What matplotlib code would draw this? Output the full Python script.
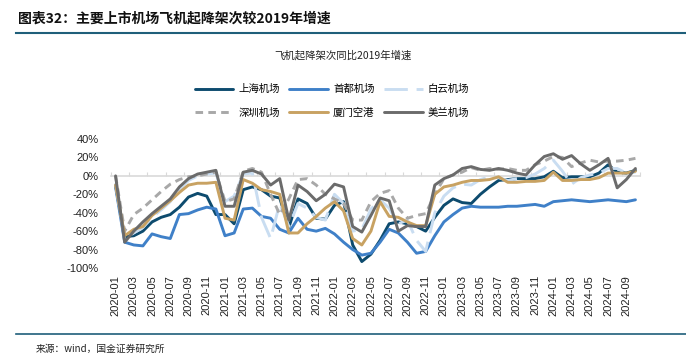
import numpy as np
import matplotlib
matplotlib.use("Agg")
import matplotlib.pyplot as plt
from matplotlib.lines import Line2D

plt.rcParams['font.family'] = ['Liberation Sans', 'Noto Sans CJK SC', 'DejaVu Sans']
CJK = ['Noto Sans CJK SC', 'DejaVu Sans']

# monthly data 2020-01 .. 2024-10, growth vs 2019 (%)
months = [f"{y}-{m:02d}" for y in range(2020, 2025) for m in range(1, 13)][:58]

shanghai = [-10, -66, -65, -60, -50, -45, -42, -34, -23, -19, -22, -42,
            -42, -52, -15, -12, -15, -22, -24, -56, -25, -30, -46, -47,
            -32, -28, -75, -93, -85, -70, -52, -50, -52, -55, -60, -45,
            -32, -25, -29, -30, -20, -12, -5, -4, -3, -3, -3, -1,
            5, -2, -1, -1, -1, 3, 12, 4, 3, 6]
beijing = [-12, -72, -75, -76, -63, -66, -68, -42, -41, -37, -34, -36,
           -65, -62, -36, -35, -44, -46, -58, -62, -46, -58, -60, -57,
           -63, -72, -80, -86, -84, -72, -58, -62, -72, -84, -82, -65,
           -50, -42, -35, -33, -34, -34, -34, -33, -33, -32, -31, -33,
           -28, -27, -26, -27, -28, -27, -26, -27, -28, -26]
baiyun = [-8, -68, -62, -56, -45, -37, -28, -15, -5, 0, 2, 3,
          -28, -22, 2, 3, -45, -68, -30, -55, -30, -35, -45, -48,
          -20, -30, -60, -58, -36, -26, -35, -52, -48, -70, -82, -40,
          -22, -13, -9, -10, -4, -1, -2, -5, -3, -2, 2, 8,
          17, 5, -9, -2, 1, 3, 8, 8, 3, 4]
shenzhen = [0, -60, -42, -35, -26, -17, -9, -4, -1, 0, 2, 4,
            -28, -25, 5, 8, 4, -20, -42, -25, -4, -3, -10, -20,
            -25, -30, -48, -48, -28, -19, -16, -35, -46, -43, -41, -20,
            -3, 1, 4, 9, 6, 8, 7, 8, 6, 6, 12, 16,
            21, 20, 10, 14, 17, 15, 16, 16, 17, 19]
xiamen = [-10, -65, -58, -55, -43, -35, -27, -18, -10, -8, -8, -7,
          -46, -48, -4, -8, -15, -17, -20, -62, -62, -52, -44, -35,
          -28, -38, -68, -75, -60, -28, -44, -45, -50, -54, -54, -20,
          -12, -10, -7, -5, -5, -4, -1, -7, -7, -6, -6, -5,
          4, -5, -5, -4, -4, -2, 3, 3, 3, 5]
meilan = [0, -72, -60, -50, -41, -33, -25, -12, -3, 2, 4, 6,
          -33, -33, 4, 6, 2, -10, -3, -48, -10, -17, -27, -20,
          -9, -12, -55, -61, -43, -24, -27, -60, -54, -55, -55, -10,
          -3, 1, 8, 10, 7, 6, 8, 6, 3, 1, 12, 21,
          24, 18, 22, 13, 6, 12, 19, -13, -4, 8]

names = ['上海机场', '首都机场', '白云机场', '深圳机场', '厦门空港', '美兰机场']
series = [shanghai, beijing, baiyun, shenzhen, xiamen, meilan]
colors = ['#0d4b6e', '#3f80c8', '#c9ddf1', '#a8a8a8', '#c8a262', '#6b6b6b']
styles = ['-', '-', (0, (8, 3)), (0, (2.6, 1.8)), '-', '-']

x = np.arange(len(months))

fig = plt.figure(figsize=(6.86, 3.64), dpi=100)
ax = fig.add_axes([111 / 686, 1 - 268 / 364, 529 / 686, 129 / 364])

lines = []
for name, vals, c, ls in zip(names, series, colors, styles):
    ln, = ax.plot(x, vals, color=c, lw=2.1, linestyle=ls, label=name,
                  solid_capstyle='round', solid_joinstyle='round')
    lines.append(ln)

ax.set_xlim(-0.5, 57.5)
ax.set_ylim(-100, 40)
ax.set_yticks(np.arange(-100, 41, 20))
ax.set_yticklabels([f"{v}%" for v in range(-100, 41, 20)])
ax.set_xticks(x[::2])
ax.set_xticklabels(months[::2], rotation=90)
ax.tick_params(axis='both', length=0, labelsize=8, colors='#222222')
ax.tick_params(axis='y', pad=9)
ax.tick_params(axis='x', pad=5)
for s in ax.spines.values():
    s.set_visible(False)

# zero line with small ticks
sec = ax.secondary_xaxis(100 / 140)
sec.set_xticks(np.arange(-0.5, 58, 2))
sec.tick_params(axis='x', direction='out', length=3, width=0.8, color='#d9d9d9',
                labeltop=False, labelbottom=False)
for s in sec.spines.values():
    s.set_color('#d9d9d9')
    s.set_linewidth(1.2)

order = [0, 3, 1, 4, 2, 5]
fig.legend([lines[i] for i in order], [names[i] for i in order], ncol=3,
           loc='center', bbox_to_anchor=(332 / 686, 1 - 101 / 364), frameon=False,
           prop={'family': CJK, 'size': 7.5}, handlelength=3.7, handletextpad=0.5,
           columnspacing=0.9, labelspacing=1.3)

fig.text(343 / 686, 1 - 55 / 364, '飞机起降架次同比2019年增速', ha='center', va='center',
         fontsize=7.5, family=CJK, color='#222222')
fig.text(18 / 686, 1 - 18 / 364, '图表32：主要上市机场飞机起降架次较2019年增速',
         ha='left', va='center', fontsize=10, weight='bold', family=CJK, color='#111111')
fig.add_artist(Line2D([16 / 686, 1], [1 - 33 / 364] * 2, color='#1f5f7a', lw=1.5))
fig.add_artist(Line2D([16 / 686, 1], [1 - 334 / 364] * 2, color='#1f5f7a', lw=1.2))
fig.text(36 / 686, 1 - 349 / 364, '来源：wind，国金证券研究所', ha='left', va='center',
         fontsize=7, family=CJK, color='#222222')

fig.savefig('out.png', dpi=100)
